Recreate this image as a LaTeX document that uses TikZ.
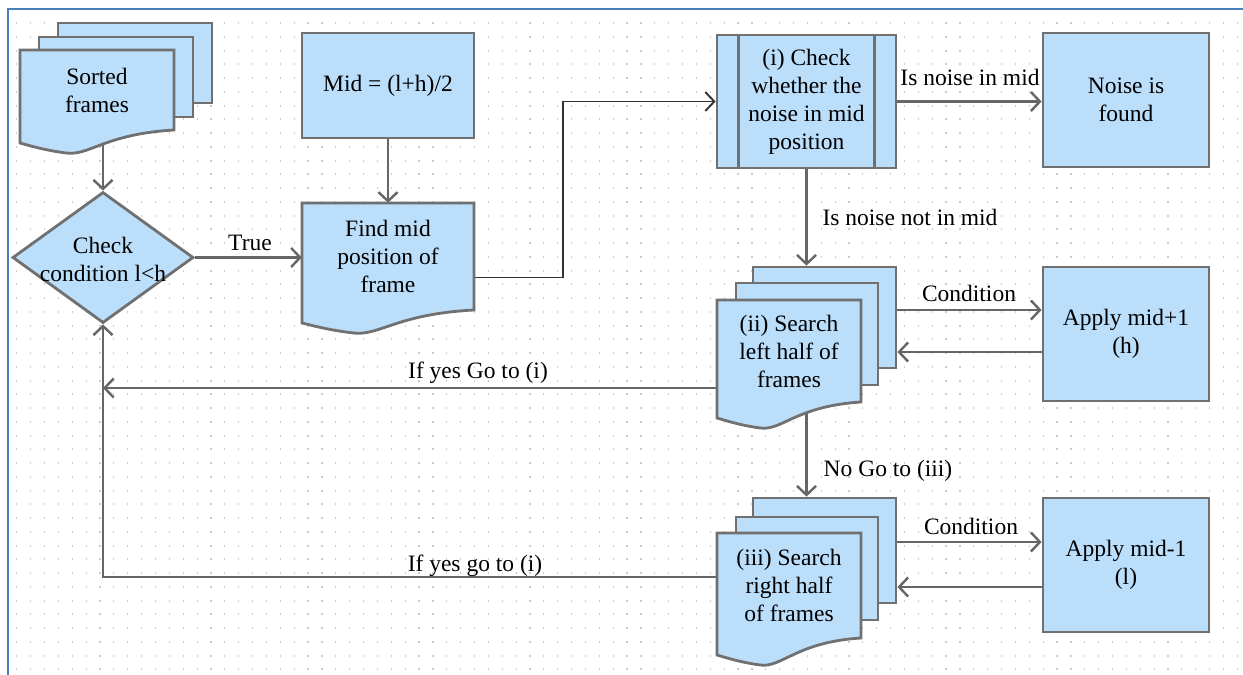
\documentclass[tikz,border=0pt]{standalone}
\usepackage{fontspec}
\setmainfont{Liberation Serif}
\usetikzlibrary{arrows.meta,shapes.geometric}
\definecolor{boxfill}{HTML}{BBDEFB}
\definecolor{boxline}{HTML}{707070}
\definecolor{connc}{HTML}{666666}
\definecolor{frameblue}{HTML}{4A7EBB}
\newcommand\fs{\fontsize{23.5}{28}\selectfont}
\pgfdeclarelayer{back}
\pgfdeclarelayer{bg}
\pgfsetlayers{back,bg,main}
\tikzset{
  box/.style={draw=boxline, fill=boxfill, line width=2.8pt, inner sep=0pt, align=center, font=\fs},
  hidden/.style={inner sep=0pt, align=center, font=\fs},
  lbl/.style={font=\fs, inner sep=0pt},
  sheet/.style={draw=boxline, fill=boxfill, line width=2.8pt, line join=miter},
  connector/.style={draw=connc, line width=2.4pt, -{Straight Barb[length=9pt,width=19pt]}},
  griddot/.style={draw=black!20, line width=2pt, dash pattern=on 1.2pt off 12.67pt},
}
% front sheet of a document shape: x1,y1,x2,yright,yleft
\newcommand\docfront[5]{%
  \path[sheet] (#1,#2) -- (#3,#2) -- (#3,#4)
    .. controls ({#1+0.55*(#3-#1)},{#4+4}) and ({#1+0.45*(#3-#1)},{#5+13}) .. ({#1+0.3*(#3-#1)},{#5+10})
    .. controls ({#1+0.15*(#3-#1)},{#5+7}) and ({#1+0.05*(#3-#1)},{#5+2}) .. (#1,#5) -- cycle;}
\newcommand\sheetrect[4]{\path[sheet] (#1,#2) rectangle (#3,#4);}
\begin{document}
\begin{tikzpicture}[x=1pt,y=-1pt]
\useasboundingbox (0,0) rectangle (1243,675);
\begin{pgfonlayer}{back}
\fill[white] (0,0) rectangle (1243,675);
\foreach \r in {0,...,47} \draw[griddot] (16.2,{23+13.75*\r}) -- (1243,{23+13.75*\r});
\draw[frameblue, line width=2pt] (8,675) -- (8,9) -- (1243,9);
\end{pgfonlayer}

% Sorted frames (multi-document)
\sheetrect{58}{23}{212}{103}
\sheetrect{39}{37}{193}{117}
\docfront{20}{50}{174}{130}{143}
\node[hidden, minimum width=154, minimum height=80] (sf) at (97,90) {Sorted\\frames};

% decision
\node[draw=boxline, fill=boxfill, line width=2.8pt, shape=diamond, minimum width=181, minimum height=131, inner sep=0pt] (cond) at (103,257.5) {};
\node[lbl, align=center] (condtxt) at (103,259) {Check\\condition l<h};

% Mid box
\node[box, minimum width=172, minimum height=105] (mid) at (388,85.5) {Mid = (l+h)/2};

% Find mid (document)
\docfront{302}{203}{474}{310}{323}
\node[hidden, minimum width=172, minimum height=107] (fm) at (388,256.5) {Find mid\\position of\\frame};

% (i) predefined process
\node[box, minimum width=179, minimum height=133] (chk) at (806.5,101.5) {(i) Check\\whether the\\noise in mid\\position};
\draw[boxline, line width=2.8pt] ([xshift=23pt]chk.north west) -- ([xshift=23pt]chk.south west)
  ([xshift=-23pt]chk.north east) -- ([xshift=-23pt]chk.south east);

% Noise is found
\node[box, minimum width=166, minimum height=134] (noise) at (1126,100) {Noise is\\found};

% (ii) multi-document
\node[sheet, minimum width=143, minimum height=101, inner sep=0pt] (s2b) at (824.5,317.5) {};
\sheetrect{736}{283}{878}{385}
\docfront{717}{300}{861}{402}{418}
\node[hidden, minimum width=144, minimum height=102] (s2) at (789,351) {(ii) Search\\left half of\\frames};

% Apply mid+1
\node[box, minimum width=166, minimum height=134] (ap1) at (1126,334) {Apply mid+1\\(h)};

% (iii) multi-document
\node[sheet, minimum width=143, minimum height=105, inner sep=0pt] (s3b) at (824.5,550.5) {};
\sheetrect{736}{517}{878}{620}
\docfront{717}{533}{861}{638}{655}
\node[hidden, minimum width=144, minimum height=105] (s3) at (789,585.5) {(iii) Search\\right half\\of frames};

% Apply mid-1
\node[box, minimum width=166, minimum height=134] (ap2) at (1126,565) {Apply mid-1\\(l)};

% connectors
\begin{pgfonlayer}{bg}
\draw[connector] (sf.south -| cond.north) -- (cond.north);
\draw[connector] (cond.east) -- (cond.east -| fm.west);
\draw[connector] (mid.south) -- (fm.north);
\draw[draw=black!80, line width=1.9pt, -{Straight Barb[length=9pt,width=19pt]}] ([yshift=-21pt]fm.east) -- ++(89,0) |- (chk.west);
\draw[connector] (chk.east) -- (chk.east -| noise.west);
\draw[connector] (chk.south) -- (chk.south |- s2b.north);
\draw[connector] ([yshift=7.5pt]s2b.east) -- ([yshift=7.5pt]s2b.east -| ap1.west);
\draw[connector] ([yshift=-34.5pt]s2b.east -| ap1.west) -- ([yshift=-34.5pt]s2b.east);
\draw[connector] ([yshift=-37pt]s2.west) -- ([yshift=-37pt]s2.west -| cond.south);
\draw[connector] (s2.south -| chk.south) -- (s3b.north -| chk.south);
\draw[connector] ([yshift=8.5pt]s3b.east) -- ([yshift=8.5pt]s3b.east -| ap2.west);
\draw[connector] ([yshift=-36.5pt]s3b.east -| ap2.west) -- ([yshift=-36.5pt]s3b.east);
\draw[connector] ([yshift=8.5pt]s3.west) -| (cond.south);
\end{pgfonlayer}

% labels
\node[lbl] (ltrue) at (250,243) {True};
\node[lbl] (lnoise) at (970,77) {Is noise in mid};
\node[lbl] (lnot) at (910,217) {Is noise not in mid};
\node[lbl] (lcond1) at (969,293) {Condition};
\node[lbl] (lcond2) at (971,526) {Condition};
\node[lbl] (lnogo) at (888,471) {No Go to (iii)};
\node[lbl] (lyes1) at (478,373) {If yes Go to (i)};
\node[lbl] (lyes2) at (475,566) {If yes go to (i)};
\end{tikzpicture}
\end{document}
